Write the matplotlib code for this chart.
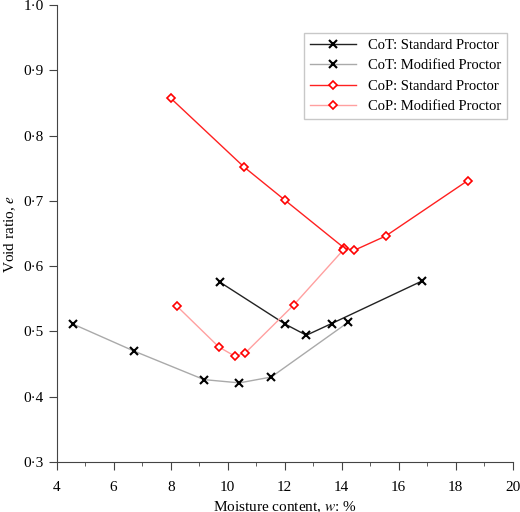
import numpy as np
import matplotlib
matplotlib.use("Agg")
import matplotlib.pyplot as plt
from matplotlib.ticker import FuncFormatter, MultipleLocator

plt.rcParams['font.family'] = ['Liberation Serif', 'DejaVu Serif']
plt.rcParams['mathtext.fontset'] = 'stix'

# CoT
cot_std_w = [9.74, 12.02, 12.76, 13.65, 16.81]
cot_std_e = [0.575, 0.511, 0.494, 0.512, 0.577]
cot_mod_w = [4.58, 6.70, 9.17, 10.41, 11.53, 14.23]
cot_mod_e = [0.511, 0.470, 0.426, 0.421, 0.430, 0.514]
# CoP
cop_std_w = [8.01, 10.57, 12.01, 14.08, 14.43, 15.54, 18.42]
cop_std_e = [0.857, 0.752, 0.701, 0.628, 0.624, 0.646, 0.731]
cop_mod_w = [8.21, 9.69, 10.25, 10.62, 12.33, 14.04]
cop_mod_e = [0.539, 0.476, 0.462, 0.467, 0.541, 0.624]

fig = plt.figure(figsize=(5.2, 5.12), dpi=100)
ax = fig.add_axes([0.109, 0.098, 0.877, 0.892])

ax.plot(cot_std_w, cot_std_e, color='#222222', lw=1, marker='x', ms=6, mew=1.5,
        mec='black', label='CoT: Standard Proctor')
ax.plot(cot_mod_w, cot_mod_e, color='#aaaaaa', lw=1, marker='x', ms=6, mew=1.5,
        mec='black', label='CoT: Modified Proctor')
ax.plot(cop_std_w, cop_std_e, color='#ff2020', lw=1, marker='D', ms=4, mew=1.2,
        mfc='white', mec='red', label='CoP: Standard Proctor')
ax.plot(cop_mod_w, cop_mod_e, color='#ffa0a0', lw=1, marker='D', ms=4, mew=1.2,
        mfc='white', mec='red', label='CoP: Modified Proctor')

ax.set_xlim(4, 20)
ax.set_ylim(0.3, 1.0)
ax.set_xticks(np.arange(4, 21, 2))
ax.xaxis.set_minor_locator(MultipleLocator(1))
ax.set_yticks(np.arange(0.3, 1.01, 0.1))
ax.yaxis.set_major_formatter(FuncFormatter(lambda v, p: f"{v:.1f}".replace('.', '·')))
ax.tick_params(labelsize=11, color='#444444', length=6)
ax.tick_params(which='minor', color='#444444', length=3)
ax.tick_params(axis='x', pad=8)
for s in ['top', 'right']:
    ax.spines[s].set_visible(False)
for s in ['left', 'bottom']:
    ax.spines[s].set_color('#444444')
ax.set_xlabel('Moisture content, $w$: %', fontsize=11, labelpad=4)
ax.set_ylabel('Void ratio, $e$', fontsize=11, labelpad=4)
ax.legend(loc='upper right', fontsize=10.5, fancybox=False, edgecolor='#bbbbbb',
          bbox_to_anchor=(0.975, 0.936), bbox_transform=fig.transFigure,
          borderaxespad=0, handlelength=3.2)

fig.savefig('out.png')
